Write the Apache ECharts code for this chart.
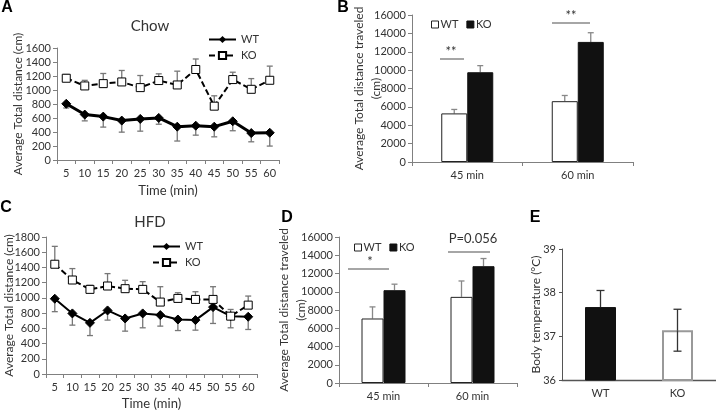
<!DOCTYPE html>
<html><head><meta charset="utf-8">
<script src="https://cdn.jsdelivr.net/npm/echarts@6/dist/echarts.min.js"></script>
<style>html,body{margin:0;padding:0;background:#fff}#c{width:716px;height:411px}</style>
</head><body><div id="c"></div>
<script>
// ---------- data ----------
const timeCats = ['5','10','15','20','25','30','35','40','45','50','55','60'];
// Panel A (Chow)
const chowWT    = [803, 649, 620, 563, 587, 601, 476, 490, 476, 553, 385, 389];
const chowWTErr = [60, 90, 150, 165, 175, 90, 205, 135, 145, 135, 125, 190];
const chowKO    = [1168, 1058, 1091, 1115, 1034, 1135, 1072, 1293, 769, 1149, 1010, 1139];
const chowKOErr = [53, 80, 145, 164, 173, 96, 197, 150, 148, 105, 153, 202];
// Panel C (HFD)
const hfdWT    = [989, 796, 672, 835, 730, 796, 774, 716, 708, 879, 760, 752];
const hfdWTErr = [170, 154, 167, 127, 167, 189, 145, 145, 132, 215, 153, 167];
const hfdKO    = [1442, 1235, 1112, 1156, 1121, 1112, 945, 993, 980, 980, 760, 905];
const hfdKOErr = [235, 150, 53, 163, 110, 101, 202, 75, 101, 167, 88, 119];
// Panel B / D (totals)
const totCats = ['45 min', '60 min'];
const chowTotWT = [5290, 6620],  chowTotWTErr = [430, 620];
const chowTotKO = [9770, 13070], chowTotKOErr = [720, 1000];
const hfdTotWT  = [7070, 9440],  hfdTotWTErr  = [1270, 1740];
const hfdTotKO  = [10170, 12800], hfdTotKOErr = [660, 840];
// Panel E (body temperature)
const tempCats = ['WT', 'KO'];
const tempVal  = [37.67, 37.14];
const tempErr  = [0.38, 0.48];

// ---------- styling helpers ----------
const FONT = 'Lato';
const TXT = '#333';
const AX = '#808080';

function errSeries(xi, yi, vals, errs, dirs, color, dx, cap, z) {
  return {
    type: 'custom', xAxisIndex: xi, yAxisIndex: yi, silent: true, z: z,
    data: vals.map((v, i) => [i, v, errs[i]]),
    encode: { x: 0, y: 1 },
    renderItem: (params, api) => {
      const i = api.value(0), v = api.value(1), e = api.value(2);
      const dir = Array.isArray(dirs) ? dirs[i] : dirs;
      const p = api.coord([i, v]);
      const x = p[0] + dx;
      const ends = [];
      if (dir === 'up' || dir === 'both') ends.push(api.coord([i, v + e])[1]);
      if (dir === 'down' || dir === 'both') ends.push(api.coord([i, v - e])[1]);
      const children = [];
      ends.forEach(yy => {
        children.push({ type: 'line', shape: { x1: x, y1: p[1], x2: x, y2: yy }, style: { stroke: color, lineWidth: 1.3 } });
        children.push({ type: 'line', shape: { x1: x - cap, y1: yy, x2: x + cap, y2: yy }, style: { stroke: color, lineWidth: 1.3 } });
      });
      return { type: 'group', children };
    }
  };
}

function catAxis(gi, data, extra) {
  return Object.assign({
    type: 'category', gridIndex: gi, data: data, boundaryGap: true,
    nameMoveOverlap: false,
    axisLine: { lineStyle: { color: AX, width: 1 } },
    axisTick: { show: true, length: 4, lineStyle: { color: AX } },
    axisLabel: { color: TXT, fontFamily: FONT, fontSize: 11, interval: 0, margin: 8 },
    splitLine: { show: false }
  }, extra || {});
}
function valAxis(gi, min, max, interval, name, nameGap, extra) {
  return Object.assign({
    type: 'value', gridIndex: gi, min: min, max: max, interval: interval,
    name: name, nameLocation: 'middle', nameGap: nameGap, nameMoveOverlap: false,
    nameTextStyle: { color: TXT, fontFamily: FONT, fontSize: 12, lineHeight: 17 },
    axisLine: { show: true, lineStyle: { color: AX, width: 1 } },
    axisTick: { show: true, length: 4, lineStyle: { color: AX } },
    axisLabel: { color: TXT, fontFamily: FONT, fontSize: 11, margin: 6, formatter: v => String(v) },
    splitLine: { show: false }
  }, extra || {});
}

const chart = echarts.init(document.getElementById('c'), null, { renderer: 'canvas' });

const lineWT = (xi, w, data) => ({
  name: 'WT', type: 'line', xAxisIndex: xi, yAxisIndex: xi, data: data, z: 3,
  symbol: 'diamond', symbolSize: 9, lineStyle: { color: '#000', width: w },
  itemStyle: { color: '#000', borderColor: '#000' }
});
const lineKO = (xi, data) => ({
  name: 'KO', type: 'line', xAxisIndex: xi, yAxisIndex: xi, data: data, z: 3,
  symbol: 'rect', symbolSize: 8, lineStyle: { color: '#000', width: 2, type: [6, 3] },
  itemStyle: { color: '#fff', borderColor: '#000', borderWidth: 1 }
});
const barWT = (xi, data, w) => ({
  name: 'WT', type: 'bar', xAxisIndex: xi, yAxisIndex: xi, data: data, barWidth: w, barGap: '0%', z: 2,
  itemStyle: { color: '#fff', borderColor: '#222', borderWidth: 1 }
});
const barKO = (xi, data, w) => ({
  name: 'KO', type: 'bar', xAxisIndex: xi, yAxisIndex: xi, data: data, barWidth: w, barGap: '0%', z: 2,
  itemStyle: { color: '#111', borderColor: '#111', borderWidth: 1 }
});

const lineLegend = (left, top) => ({
  left: left, top: top, orient: 'vertical', itemWidth: 27, itemHeight: 9, itemGap: 5,
  data: ['WT', 'KO'], selectedMode: false,
  textStyle: { color: TXT, fontFamily: FONT, fontSize: 11 }
});
const barLegend = (left, top) => ({
  left: left, top: top, orient: 'horizontal', itemWidth: 7, itemHeight: 7, itemGap: 8, selectedMode: false,
  data: [
    { name: 'WT', icon: 'rect', itemStyle: { color: '#fff', borderColor: '#222', borderWidth: 1 } },
    { name: 'KO', icon: 'rect', itemStyle: { color: '#111', borderColor: '#111', borderWidth: 1 } }
  ],
  textStyle: { color: TXT, fontFamily: FONT, fontSize: 11, padding: [0, 0, 0, -3] }
});

function txt(x, y, s, size, bold, align) {
  return { type: 'text', x: x, y: y, silent: true,
    style: { text: s, fill: bold ? '#000' : TXT, font: (bold ? 'bold ' : '') + size + 'px ' + (bold ? '"Liberation Sans"' : FONT),
      textAlign: align || 'center', textVerticalAlign: 'middle' } };
}
function hline(x1, x2, y) {
  return { type: 'line', silent: true, shape: { x1: x1, y1: y, x2: x2, y2: y }, style: { stroke: '#888', lineWidth: 1.5 } };
}

const option = {
  animation: false,
  backgroundColor: '#fff',
  grid: [
    { left: 57, top: 48, width: 222, height: 112 },
    { left: 412, top: 15, width: 221, height: 147 },
    { left: 44, top: 237, width: 213, height: 137 },
    { left: 339, top: 237, width: 178, height: 146 },
    { left: 562, top: 249, width: 154, height: 131 }
  ],
  xAxis: [
    catAxis(0, timeCats, { name: 'Time (min)', nameLocation: 'middle', nameGap: 24,
      nameTextStyle: { color: TXT, fontFamily: FONT, fontSize: 13 } }),
    catAxis(1, totCats),
    catAxis(2, timeCats, { name: 'Time (min)', nameLocation: 'middle', nameGap: 23,
      nameTextStyle: { color: TXT, fontFamily: FONT, fontSize: 13 } }),
    catAxis(3, totCats),
    catAxis(4, tempCats, { axisTick: { show: false }, axisLine: { lineStyle: { color: '#555', width: 1.3 } } })
  ],
  yAxis: [
    valAxis(0, 0, 1600, 200, 'Average Total distance (cm)', 30),
    valAxis(1, 0, 16000, 2000, 'Average Total distance traveled\n(cm)', 27),
    valAxis(2, 0, 1800, 200, 'Average Total distance (cm)', 28),
    valAxis(3, 0, 16000, 2000, 'Average Total distance traveled\n(cm)', 29),
    valAxis(4, 36, 39, 1, 'Body temperature (°C)', 17, {
      axisLine: { show: true, lineStyle: { color: '#555', width: 1 } },
      axisTick: { show: true, length: 3, lineStyle: { color: '#555' } } })
  ],
  legend: [
    lineLegend(203, 29),
    barLegend(426, 14),
    lineLegend(147, 236),
    barLegend(349, 237)
  ],
  series: [
    // A
    errSeries(0, 0, chowWT, chowWTErr, 'down', '#777', 0, 3, 1),
    errSeries(0, 0, chowKO, chowKOErr, 'up', '#777', 0, 3, 1),
    lineWT(0, 3, chowWT),
    lineKO(0, chowKO),
    // B
    barWT(1, chowTotWT, 26),
    barKO(1, chowTotKO, 26),
    errSeries(1, 1, chowTotWT, chowTotWTErr, 'up', '#888', -13, 3, 1),
    errSeries(1, 1, chowTotKO, chowTotKOErr, 'up', '#888', 13, 3, 1),
    // C
    errSeries(2, 2, hfdWT, hfdWTErr, 'down', '#777', 0, 3, 1),
    errSeries(2, 2, hfdKO, hfdKOErr, 'up', '#777', 0, 3, 1),
    lineWT(2, 2, hfdWT),
    lineKO(2, hfdKO),
    // D
    barWT(3, hfdTotWT, 22),
    barKO(3, hfdTotKO, 22),
    errSeries(3, 3, hfdTotWT, hfdTotWTErr, 'up', '#888', -11, 3, 1),
    errSeries(3, 3, hfdTotKO, hfdTotKOErr, 'up', '#888', 11, 3, 1),
    // E
    { name: 'Temp', type: 'bar', xAxisIndex: 4, yAxisIndex: 4, barWidth: 31, z: 2,
      data: [
        { value: tempVal[0], itemStyle: { color: '#111', borderColor: '#111', borderWidth: 1 } },
        { value: tempVal[1], itemStyle: { color: '#fff', borderColor: '#999', borderWidth: 2 } }
      ] },
    errSeries(4, 4, tempVal, tempErr, ['up', 'both'], '#333', 0, 4, 5)
  ],
  graphic: [
    txt(7, 8, 'A', 16, true),
    txt(343, 8, 'B', 16, true),
    txt(6, 208, 'C', 16, true),
    txt(287, 218, 'D', 16, true),
    txt(535, 218, 'E', 16, true),
    txt(150, 26, 'Chow', 15, false),
    txt(150, 222, 'HFD', 15, false),
    hline(440, 464, 59), txt(451, 52, '**', 13, false),
    hline(552, 590, 23), txt(571, 16, '**', 13, false),
    hline(348, 389, 269), txt(370, 262, '*', 13, false),
    hline(448, 490, 252), txt(473, 239, 'P=0.056', 13, false)
  ]
};
chart.setOption(option);
</script>
</body></html>
